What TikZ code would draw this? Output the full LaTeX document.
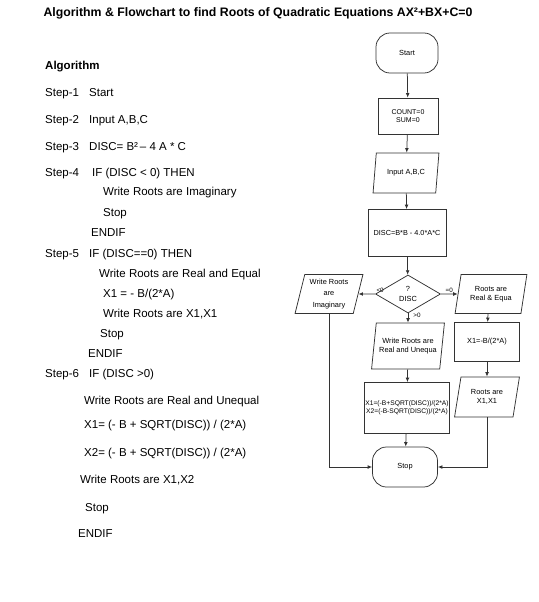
\documentclass[tikz,border=0pt]{standalone}
\usepackage{fontspec}
\setmainfont{Liberation Sans}
\usetikzlibrary{shapes.geometric, positioning, arrows.meta}

\begin{document}
\begin{tikzpicture}[x=1pt, y=-1pt, >={Latex[length=4.5pt, width=3.8pt]},
        txt/.style={anchor=base west, inner sep=0pt, font=\fontsize{11.5}{13}\selectfont},
        box/.style={draw=black!80, line width=0.75pt, rectangle, align=center, inner sep=1pt,
            font=\fontsize{7.4}{8.8}\selectfont},
        term/.style={box, rounded corners=14pt},
        io/.style={box, trapezium, trapezium left angle=76, trapezium right angle=104,
            trapezium stretches=true},
        test/.style={box, diamond, inner sep=0pt},
        link/.style={->, draw=black!80, line width=0.75pt},
        tag/.style={inner sep=1pt, font=\fontsize{6.3}{7}\selectfont}]

        \useasboundingbox (0,0) rectangle (538,602);

        % --- Title ---
        \node[inner sep=0pt, font=\bfseries\fontsize{12.3}{14}\selectfont] (title) at (258,13)
            {Algorithm \& Flowchart to find Roots of Quadratic Equations AX²+BX+C=0};

        % --- Algorithm ---
        \node[txt, font=\bfseries\fontsize{11.5}{13}\selectfont] (alg) at (45,70) {Algorithm};
        \node[txt] (st1) at (45,96)  {Step-1};
        \node[txt] (st1a) at (89,96) {Start};
        \node[txt] (st2) at (45,123) {Step-2};
        \node[txt] (st2a) at (89,123) {Input A,B,C};
        \node[txt] (st3) at (45,150) {Step-3};
        \node[txt] (st3a) at (89,150) {DISC= B²\,– 4 A * C};
        \node[txt] (st4) at (45,176) {Step-4};
        \node[txt] (st4a) at (92,176) {IF (DISC < 0) THEN};
        \node[txt] (st4b) at (103,195) {Write Roots are Imaginary};
        \node[txt] (st4c) at (103,216) {Stop};
        \node[txt] (st4d) at (91,236)  {ENDIF};
        \node[txt] (st5) at (45,257) {Step-5};
        \node[txt] (st5a) at (89,257) {IF (DISC==0) THEN};
        \node[txt] (st5b) at (99,277)  {Write Roots are Real and Equal};
        \node[txt] (st5c) at (103,297) {X1 = - B/(2*A)};
        \node[txt] (st5d) at (103,317) {Write Roots are X1,X1};
        \node[txt] (st5e) at (100,337) {Stop};
        \node[txt] (st5f) at (88,357)  {ENDIF};
        \node[txt] (st6) at (45,377) {Step-6};
        \node[txt] (st6a) at (89,377) {IF (DISC >0)};
        \node[txt] (st6b) at (84,404) {Write Roots are Real and Unequal};
        \node[txt] (st6c) at (84,428) {X1= (- B + SQRT(DISC)) / (2*A)};
        \node[txt] (st6d) at (84,456) {X2= (- B + SQRT(DISC)) / (2*A)};
        \node[txt] (st6e) at (80,483) {Write Roots are X1,X2};
        \node[txt] (st6f) at (85,511) {Stop};
        \node[txt] (st6g) at (78,537) {ENDIF};

        % --- Flowchart ---
        \node[term, minimum width=62, minimum height=40] (start) at (407,53) {Start};
        \node[box, minimum width=60, minimum height=36, font=\fontsize{7}{8.3}\selectfont]
            (count) at (408,116) {COUNT=0\\SUM=0};
        \node[io, minimum width=66, minimum height=40] (input) at (406,173) {Input A,B,C};
        \node[box, minimum width=78, minimum height=47, font=\fontsize{7.3}{8.5}\selectfont]
            (disc) at (407,233) {DISC=B*B - 4.0*A*C};
        \node[test, minimum width=65, minimum height=38] (check) at (408,294) {?\\[1pt]DISC};
        \node[io, minimum width=68, minimum height=39] (imag) at (329,294)
            {Write Roots\\[3pt]are\\[3pt]Imaginary};
        \node[io, minimum width=72, minimum height=39] (equal) at (491,294) {Roots are\\Real \& Equa};
        \node[io, minimum width=73, minimum height=46] (unequal) at (408,346)
            {Write Roots are\\Real and Unequa};
        \node[box, minimum width=65, minimum height=39] (xone) at (487,342) {X1=-B/(2*A)};
        \node[io, minimum width=65, minimum height=40] (xonexone) at (487,397) {Roots are\\X1,X1};
        \node[box, minimum width=84, minimum height=51, font=\fontsize{6.7}{8.3}\selectfont]
            (xonextwo) at (407,408) {X1=(-B+SQRT(DISC))/(2*A)\\X2=(-B-SQRT(DISC))/(2*A)};
        \node[term, minimum width=65, minimum height=40] (stop) at (405,467) {Stop};

        % --- Connectors ---
        \draw[link] (start) -- (count);
        \draw[link] (count) -- (input);
        \draw[link] (input) -- (disc);
        \draw[link] (disc) -- (check);
        \draw[link] (check) -- node[tag, at start, above right] {<0} (imag);
        \draw[link] (check) -- node[tag, midway, above] {=0} (equal);
        \draw[link] (check) -- node[tag, pos=0.2, right, xshift=4pt] {>0} (unequal);
        \draw[link] (unequal) -- (xonextwo);
        \draw[link] (equal.bottom side) -- (xone);
        \draw[link] (xone) -- (xonexone);
        \draw[link] (xonextwo) -- (stop);
        \draw[link] (imag) |- (stop);
        \draw[link] (xonexone) |- (stop);

    \end{tikzpicture}
\end{document}
